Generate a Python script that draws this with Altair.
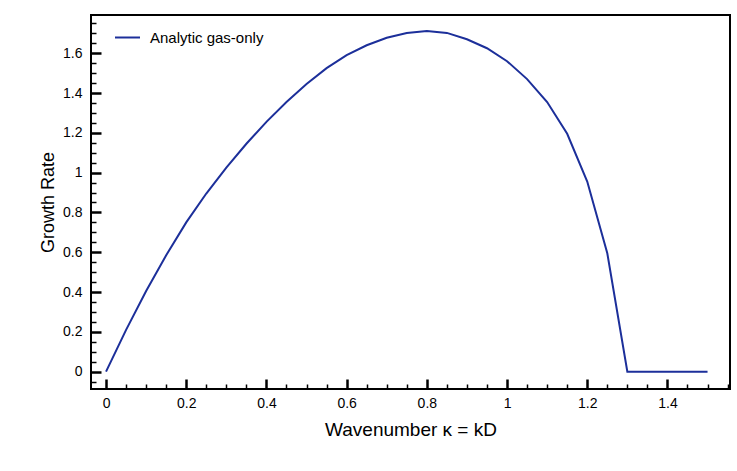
import altair as alt
import pandas as pd

# ---- data ----
kappa = [0.00, 0.05, 0.10, 0.15, 0.20, 0.25, 0.30, 0.35, 0.40, 0.45,
         0.50, 0.55, 0.60, 0.65, 0.70, 0.75, 0.80, 0.85, 0.90, 0.95,
         1.00, 1.05, 1.10, 1.15, 1.20, 1.25, 1.30, 1.35, 1.40, 1.45, 1.50]
growth = [0.000, 0.210, 0.405, 0.585, 0.750, 0.895, 1.025, 1.145, 1.255, 1.355,
          1.445, 1.525, 1.590, 1.640, 1.678, 1.702, 1.712, 1.702, 1.670, 1.625,
          1.560, 1.470, 1.355, 1.195, 0.955, 0.595, 0.000, 0.000, 0.000, 0.000, 0.000]
series_name = "Analytic gas-only"

x_major = [0, 0.2, 0.4, 0.6, 0.8, 1.0, 1.2, 1.4]
x_minor = [0.05, 0.10, 0.15, 0.25, 0.30, 0.35, 0.45, 0.50, 0.55, 0.65, 0.70, 0.75,
           0.85, 0.90, 0.95, 1.05, 1.10, 1.15, 1.25, 1.30, 1.35, 1.45, 1.50, 1.55]
y_major = [0, 0.2, 0.4, 0.6, 0.8, 1.0, 1.2, 1.4, 1.6]
y_minor = [-0.05, 0.05, 0.10, 0.15, 0.25, 0.30, 0.35, 0.45, 0.50, 0.55, 0.65, 0.70,
           0.75, 0.85, 0.90, 0.95, 1.05, 1.10, 1.15, 1.25, 1.30, 1.35, 1.45, 1.50,
           1.55, 1.65, 1.70, 1.75]

df = pd.DataFrame({"kappa": kappa, "growth": growth,
                   "series": [series_name] * len(kappa)})

W, H = 639, 374
FONT = "Liberation Sans"
LINE_COLOR = "#1c2f9a"
xscale = alt.Scale(domain=[-0.0375, 1.556], nice=False, zero=False)
yscale = alt.Scale(domain=[-0.087, 1.792], nice=False, zero=False)

base = alt.Chart(df)

line = base.mark_line(strokeWidth=2).encode(
    x=alt.X("kappa:Q", scale=xscale,
            axis=alt.Axis(orient="bottom", values=x_major, format="~g", ticks=False,
                          domain=False, grid=False, labelFontSize=14, labelPadding=7,
                          labelColor="black", labelFont=FONT,
                          title="Wavenumber κ = kD", titleFontSize=19,
                          titleFontWeight="normal", titleFont=FONT, titleColor="black",
                          titlePadding=10)),
    y=alt.Y("growth:Q", scale=yscale,
            axis=alt.Axis(orient="left", values=y_major, format="~g", ticks=False,
                          domain=False, grid=False, labelFontSize=14, labelPadding=9,
                          labelColor="black", labelFont=FONT,
                          title="Growth Rate", titleFontSize=18,
                          titleFontWeight="normal", titleFont=FONT, titleColor="black",
                          titlePadding=5)),
    color=alt.Color("series:N", scale=alt.Scale(range=[LINE_COLOR]),
                    legend=alt.Legend(title=None, orient="none", legendX=23, legendY=9,
                                      symbolType="stroke", symbolSize=625,
                                      symbolStrokeWidth=2, labelFontSize=15,
                                      labelFont=FONT, labelColor="black",
                                      labelOffset=9, padding=0)),
)

def tick_layer(xvals, yvals, size, width):
    return base.mark_line(opacity=0).encode(
        x=alt.X("kappa:Q", scale=xscale,
                axis=alt.Axis(orient="top", offset=-H, values=xvals, labels=False,
                              domain=False, grid=False, tickSize=size, tickWidth=width,
                              tickColor="black", title=None)),
        y=alt.Y("growth:Q", scale=yscale,
                axis=alt.Axis(orient="right", offset=-W, values=yvals, labels=False,
                              domain=False, grid=False, tickSize=size, tickWidth=width,
                              tickColor="black", title=None)),
    )

major = tick_layer(x_major, y_major, 10, 2.5)
minor = tick_layer(x_minor, y_minor, 5, 1.5)

chart = alt.layer(line, major, minor).resolve_axis(
    x="independent", y="independent"
).properties(
    width=W, height=H,
    autosize=alt.AutoSizeParams(type="none"),
    padding={"left": 91, "top": 15, "right": 7, "bottom": 82},
    background="white",
).configure_view(stroke="black", strokeWidth=2)

chart.save("out.html", embed_options={"renderer": "svg", "actions": False})
